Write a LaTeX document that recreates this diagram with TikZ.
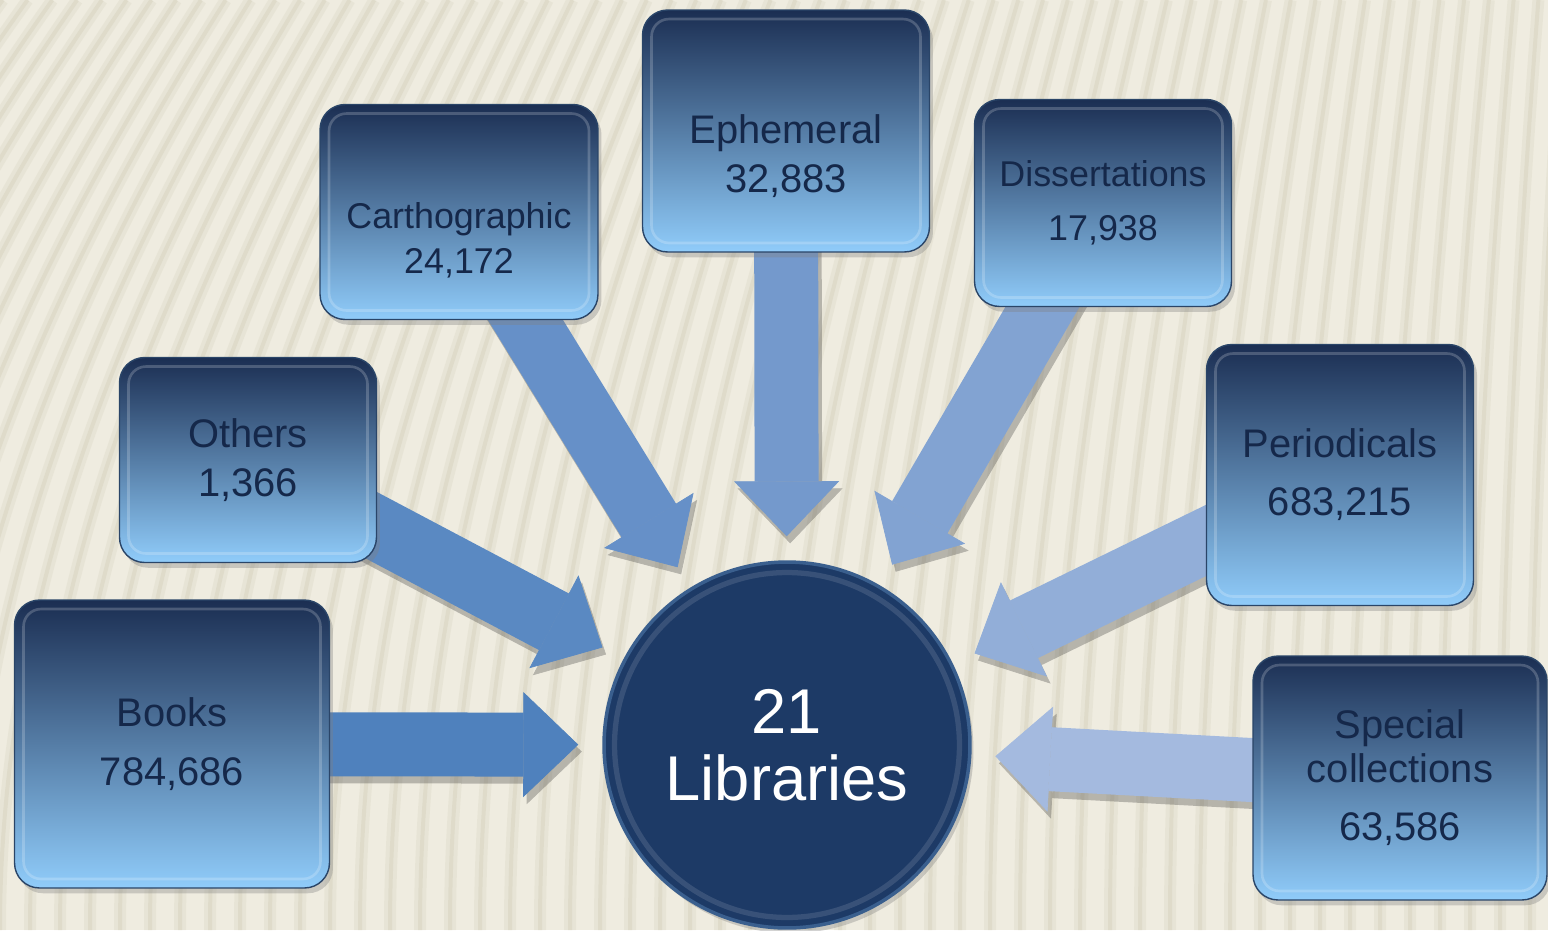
\documentclass[tikz,border=0pt]{standalone}
\usepackage{fontspec}
\setmainfont{Liberation Sans}
\usetikzlibrary{arrows.meta,shadows}

\definecolor{paper}{HTML}{EFECE0}
\definecolor{stripe}{HTML}{D3CFBA}
\definecolor{boxtop}{HTML}{1B2E52}
\definecolor{boxmid}{HTML}{4B77A9}
\definecolor{boxbot}{HTML}{90CCFA}
\definecolor{boxline}{HTML}{2A4568}
\definecolor{txt}{HTML}{15284A}
\definecolor{libfill}{HTML}{1D3A66}
\definecolor{libline}{HTML}{3A5F8E}
\definecolor{flowA}{HTML}{4F81BD}
\definecolor{flowB}{HTML}{5A89C2}
\definecolor{flowC}{HTML}{6690C8}
\definecolor{flowD}{HTML}{7499CC}
\definecolor{flowE}{HTML}{82A3D2}
\definecolor{flowF}{HTML}{92AED8}
\definecolor{flowG}{HTML}{A4BADF}

\pgfdeclarelayer{bg}
\pgfdeclarelayer{flows}
\pgfsetlayers{bg,flows,main}

\tikzset{
    box/.style={rectangle, rounded corners=0.5cm, draw=boxline, line width=0.8pt,
        top color=boxtop, middle color=boxmid, bottom color=boxbot,
        text=txt, align=center,
        drop shadow={shadow xshift=2pt, shadow yshift=-3pt, opacity=.35},
        path picture={\draw[white, opacity=.2, line width=1.5pt, rounded corners=0.35cm]
            ([shift={(0.18cm,-0.18cm)}]path picture bounding box.north west) rectangle
            ([shift={(-0.18cm,0.18cm)}]path picture bounding box.south east);}},
    boxtext/.style={text=txt, align=center},
    flow/.style={line width=1.28cm, shorten >=0.48cm,
        -{Triangle[length=1.1cm, width=2.1cm, line width=0.4pt]}},
}

\begin{document}
\begin{tikzpicture}[x=0.02cm, y=-0.02cm]
    \useasboundingbox (0,0) rectangle (1548,930);

    % collection boxes
    \node[box, minimum width=6.3cm, minimum height=5.76cm, font=\fontsize{22.7}{34}\selectfont]
        (books) at (172,744) {Books\\784,686};
    \node[box, minimum width=5.14cm, minimum height=4.1cm, font=\fontsize{22.7}{28}\selectfont]
        (others) at (248,460) {Others\\1,366};
    \node[box, minimum width=5.56cm, minimum height=4.3cm] (carto) at (459,212) {};
    \node[boxtext, font=\fontsize{20.4}{25.5}\selectfont] (carto-t) at (459,240) {Carthographic\\24,172};
    \node[box, minimum width=5.74cm, minimum height=4.84cm] (ephem) at (786,131) {};
    \node[boxtext, font=\fontsize{22.7}{28}\selectfont] (ephem-t) at (786,156) {Ephemeral\\32,883};
    \node[box, minimum width=5.14cm, minimum height=4.14cm, font=\fontsize{20.4}{31}\selectfont]
        (diss) at (1103,203) {Dissertations\\17,938};
    \node[box, minimum width=5.34cm, minimum height=5.22cm, font=\fontsize{22.7}{33}\selectfont]
        (period) at (1340,475) {Periodicals\\683,215};
    \node[box, minimum width=5.88cm, minimum height=4.88cm, font=\fontsize{22.7}{25}\selectfont]
        (special) at (1400,778) {Special\\collections\\[8pt]63,586};

    % centre
    \node[circle, minimum size=7.32cm, fill=libfill, draw=libline, line width=2pt,
        drop shadow={shadow xshift=2pt, shadow yshift=-3pt, opacity=.35},
        path picture={\draw[white, opacity=.12, line width=3pt]
            (path picture bounding box.center) circle (3.45cm);},
        text=white, align=center, font=\fontsize{36}{38}\selectfont]
        (lib) at (787,745) {21\\Libraries};

    % block arrows into the circle
    \begin{pgfonlayer}{flows}
        \begin{scope}[transparency group, opacity=.3]
            \foreach \src in {books,others,carto,ephem,diss,period,special}
                \draw[flow, color=black!80, transform canvas={xshift=2pt, yshift=-4pt}]
                    (\src.center) -- (lib);
        \end{scope}
        \foreach \src/\col in {books/flowA, others/flowB, carto/flowC, ephem/flowD,
                               diss/flowE, period/flowF, special/flowG}
            \draw[flow, color=\col] (\src.center) -- (lib);
    \end{pgfonlayer}

    % striped paper
    \begin{pgfonlayer}{bg}
        \fill[paper] (0,0) rectangle (1548,930);
        \begin{scope}
            \clip (0,0) rectangle (1548,930);
            \foreach \i in {-12,...,52} {
                \pgfmathsetmacro\xb{\i*30}
                \pgfmathsetmacro\bend{270*(1-\xb/1548)+30}
                \draw[stripe, opacity=.25, line width=0.24cm]
                    (\xb,930) .. controls (\xb,600) and (\xb+0.4*\bend,300) .. (\xb+\bend,0);
                \draw[stripe, opacity=.4, line width=0.08cm]
                    (\xb,930) .. controls (\xb,600) and (\xb+0.4*\bend,300) .. (\xb+\bend,0);
            }
        \end{scope}
    \end{pgfonlayer}
\end{tikzpicture}
\end{document}
